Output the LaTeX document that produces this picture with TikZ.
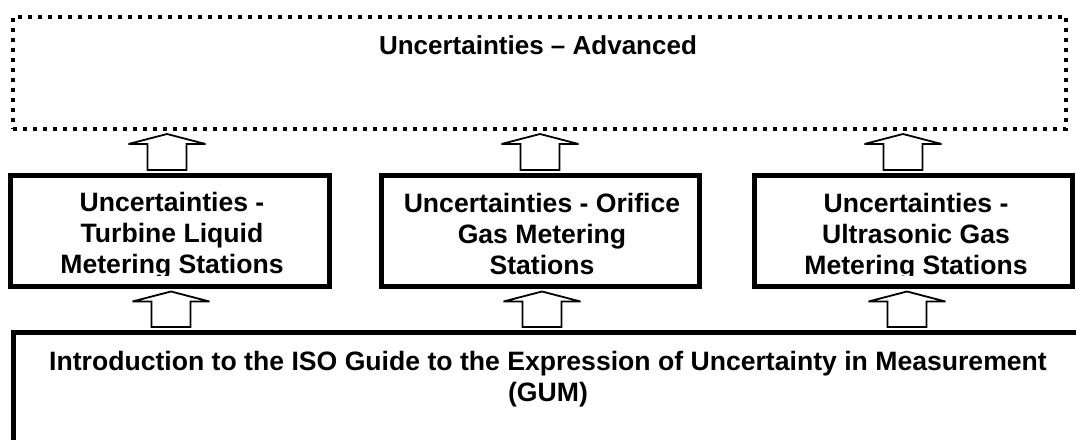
\documentclass[tikz,border=0pt]{standalone}
\usepackage{fontspec}
\setmainfont{Liberation Sans}
\usetikzlibrary{calc}
\tikzset{
  box/.style={draw, line width=5pt, inner sep=0pt, outer sep=0pt, anchor=north west},
  dotbox/.style={draw, line width=4pt, dash pattern=on 4pt off 6pt, inner sep=0pt, outer sep=0pt, anchor=north west},
  lbl/.style={font=\bfseries\fontsize{26.6}{31}\selectfont, align=center, anchor=base, inner sep=0pt},
  blockarr/.style={draw, line width=1.8pt, fill=white, line join=miter, miter limit=4},
}
\newcommand\blockup[3]{%
  \draw[blockarr] let \p1=(#1.north), \p2=(#2.south) in
    ({(#3-19.5)*1pt},{\y1+5.5pt}) -- ({(#3-19.5)*1pt},{\y2-15pt}) --
    ({(#3-38.5)*1pt},{\y2-15pt}) -- ({#3*1pt},{\y2-5pt}) --
    ({(#3+38.5)*1pt},{\y2-15pt}) -- ({(#3+19.5)*1pt},{\y2-15pt}) --
    ({(#3+19.5)*1pt},{\y1+5.5pt}) -- cycle;}
\begin{document}
\begin{tikzpicture}[x=1pt,y=-1pt]
\useasboundingbox (0,0) rectangle (1076,439);
\fill[white] (0,0) rectangle (1076,439);
\node[dotbox, minimum width=1053pt, minimum height=112.5pt] (adv) at (13,16.5) {};
\node[box, minimum width=319pt, minimum height=111pt] (turb) at (10.5,175.5) {};
\node[box, minimum width=318pt, minimum height=111pt] (orif) at (381.5,175.5) {};
\node[box, minimum width=318pt, minimum height=111pt] (ultra) at (754.5,175.5) {};
\node[box, minimum width=1100pt, minimum height=150pt] (gum) at (13.5,332.5) {};
\node[lbl, font=\bfseries\fontsize{26}{31}\selectfont] (advt) at (538,54) {Uncertainties – Advanced};
\begin{scope}
  \clip (0,0) rectangle (1076,275);
  \node[lbl] (turbt) at (172,273.7) {Uncertainties -\\Turbine Liquid\\Metering Stations};
  \node[lbl] (ultrat) at (916,274) {Uncertainties -\\Ultrasonic Gas\\Metering Stations};
\end{scope}
\node[lbl] (orift) at (542,274.7) {Uncertainties - Orifice\\Gas Metering\\Stations};
\node[lbl] (gumt) at (548,401) {Introduction to the ISO Guide to the Expression of Uncertainty in Measurement\\(GUM)};
\blockup{turb}{adv}{167}
\blockup{orif}{adv}{540}
\blockup{ultra}{adv}{903}
\blockup{gum}{turb}{171}
\blockup{gum}{orif}{542}
\blockup{gum}{ultra}{907}
\end{tikzpicture}
\end{document}
